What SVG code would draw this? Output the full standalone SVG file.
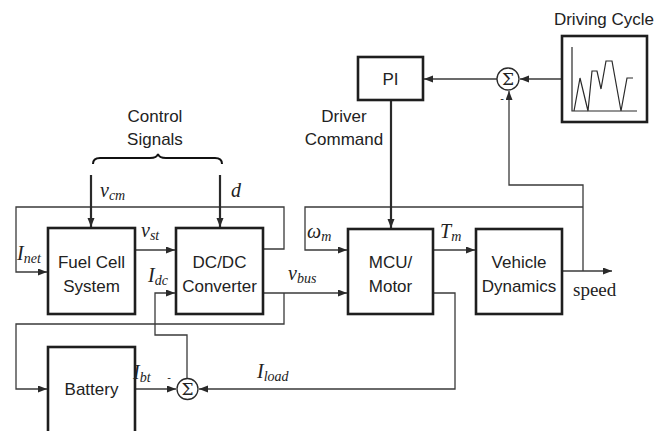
<svg xmlns="http://www.w3.org/2000/svg" width="669" height="431" viewBox="0 0 669 431">
<defs>
<marker id="ah" markerUnits="userSpaceOnUse" markerWidth="10" markerHeight="8" refX="9" refY="3.5" orient="auto">
<path d="M0,0 L9,3.5 L0,7 z" fill="#2a2a2a"/>
</marker>
</defs>
<style>
.box{fill:#fff;stroke:#1e1e1e;stroke-width:2.6}
.lbl{font-family:"Liberation Sans",Arial,sans-serif;font-size:17px;fill:#222;text-anchor:middle}
.c{fill:none;stroke:#3a3a3a;stroke-width:1.3}
.ct{fill:none;stroke:#2a2a2a;stroke-width:2.2}
.m{font-family:"Liberation Serif","Times New Roman",serif;font-style:italic;font-size:20px;fill:#222}
.s{font-size:14px}
.sig{fill:#fff;stroke:#2a2a2a;stroke-width:1.3}
.sg{font-family:"DejaVu Serif","Liberation Serif",serif;font-size:17px;fill:#222;text-anchor:middle}
.minus{font-family:"Liberation Sans",Arial,sans-serif;font-size:11px;fill:#222;text-anchor:middle}
</style>
<rect width="669" height="431" fill="#fff"/>

<g id="connectors">
<polyline class="c" points="263,249 284,249 284,207 16,207 16,272 47,272" marker-end="url(#ah)"/>
<line class="c" x1="135" y1="250" x2="175" y2="250" marker-end="url(#ah)"/>
<line class="ct" x1="91" y1="175" x2="91" y2="227" marker-end="url(#ah)"/>
<line class="ct" x1="220" y1="175" x2="220" y2="227" marker-end="url(#ah)"/>
<line class="c" x1="263" y1="293" x2="347" y2="293" marker-end="url(#ah)"/>
<polyline class="c" points="284,293 284,324 16,324 16,389 47,389" marker-end="url(#ah)"/>
<polyline class="c" points="187,378 187,335 155,335 155,293 175,293" marker-end="url(#ah)"/>
<line class="c" x1="135" y1="389" x2="176" y2="389" marker-end="url(#ah)"/>
<polyline class="c" points="433,293 455,293 455,389 199,389" marker-end="url(#ah)"/>
<polyline class="c" points="583,207 305,207 305,250 347,250" marker-end="url(#ah)"/>
<line class="c" x1="433" y1="250" x2="475" y2="250" marker-end="url(#ah)"/>
<line class="c" x1="562" y1="271" x2="612" y2="271" marker-end="url(#ah)"/>
<polyline class="c" points="583,271 583,185 509,185 509,91" marker-end="url(#ah)"/>
<line class="c" x1="562" y1="79" x2="520" y2="79" marker-end="url(#ah)"/>
<line class="c" x1="497" y1="79" x2="424" y2="79" marker-end="url(#ah)"/>
<line class="ct" x1="391" y1="100" x2="391" y2="228" marker-end="url(#ah)"/>
</g>

<g id="brace">
<path d="M93,164 Q93,158 100,158 L150,158 Q157,158 158,154 Q159,158 166,158 L215,158 Q222,158 222,164" fill="none" stroke="#111" stroke-width="2"/>
<text class="lbl" x="155" y="122">Control</text>
<text class="lbl" x="155" y="145">Signals</text>
</g>

<g id="fuelcell">
<rect class="box" x="48" y="228" width="87" height="86"/>
<text class="lbl" x="91.5" y="268">Fuel Cell</text>
<text class="lbl" x="91.5" y="292">System</text>
</g>

<g id="dcdc">
<rect class="box" x="176" y="228" width="87" height="86"/>
<text class="lbl" x="219.5" y="268">DC/DC</text>
<text class="lbl" x="219.5" y="292">Converter</text>
</g>

<g id="battery">
<rect class="box" x="48" y="347" width="87" height="100"/>
<text class="lbl" x="91.5" y="395">Battery</text>
</g>

<g id="mcu">
<rect class="box" x="348" y="229" width="85" height="85"/>
<text class="lbl" x="390.5" y="268">MCU/</text>
<text class="lbl" x="390.5" y="292">Motor</text>
</g>

<g id="vehicle">
<rect class="box" x="476" y="229" width="86" height="85"/>
<text class="lbl" x="519" y="268">Vehicle</text>
<text class="lbl" x="519" y="292">Dynamics</text>
</g>

<g id="pi">
<rect class="box" x="358" y="57" width="65" height="43"/>
<text class="lbl" x="390.5" y="85">PI</text>
</g>

<g id="driver">
<text class="lbl" x="344" y="122">Driver</text>
<text class="lbl" x="344" y="145">Command</text>
</g>

<g id="drivingcycle">
<text class="lbl" x="604" y="25">Driving Cycle</text>
<rect class="box" x="562" y="36" width="85" height="86"/>
<polyline points="572,47 572,111 637,111" fill="none" stroke="#2a2a2a" stroke-width="1.2"/>
<polyline points="574,111 580,78 588,111 592,71 597,71 601,89 606,61 612,61 621,111 627,78 633,78" fill="none" stroke="#2a2a2a" stroke-width="1.2"/>
</g>

<g id="sum1">
<circle class="sig" cx="508" cy="79" r="11"/>
<text class="sg" x="508" y="85">Σ</text>
<text class="minus" x="502" y="102">-</text>
</g>

<g id="sum2">
<circle class="sig" cx="187.5" cy="389" r="10.5"/>
<text class="sg" x="187.5" y="395">Σ</text>
<text class="minus" x="169" y="381">-</text>
</g>

<g id="labels">
<text class="m" x="100" y="197">v<tspan class="s" dy="3">cm</tspan></text>
<text class="m" x="231" y="197">d</text>
<text class="m" x="17" y="260">I<tspan class="s" dy="3">net</tspan></text>
<text class="m" x="141" y="237">v<tspan class="s" dy="3">st</tspan></text>
<text class="m" x="148" y="282">I<tspan class="s" dy="3">dc</tspan></text>
<text class="m" x="288" y="280">v<tspan class="s" dy="3">bus</tspan></text>
<text class="m" x="133" y="379">I<tspan class="s" dy="3">bt</tspan></text>
<text class="m" x="257" y="378">I<tspan class="s" dy="3">load</tspan></text>
<text class="m" x="307" y="238">ω<tspan class="s" dy="3">m</tspan></text>
<text class="m" x="440" y="238">T<tspan class="s" dy="3">m</tspan></text>
<text x="573" y="296" style="font-family:'Liberation Serif',serif;font-size:19px;fill:#222">speed</text>
</g>
</svg>
